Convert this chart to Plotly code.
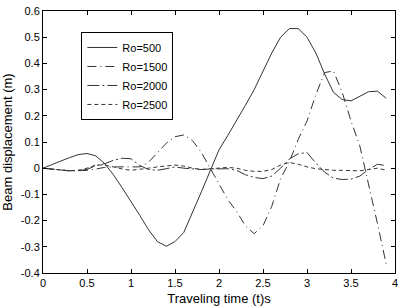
import plotly.graph_objects as go

t = [round(i * 0.1, 1) for i in range(40)]

ro500 = [0, 0.012, 0.027, 0.04, 0.052, 0.056, 0.047, 0.018, -0.025, -0.075,
         -0.125, -0.18, -0.235, -0.28, -0.298, -0.28, -0.245, -0.17, -0.09, -0.01,
         0.07, 0.125, 0.18, 0.24, 0.30, 0.37, 0.44, 0.50, 0.533, 0.533,
         0.50, 0.44, 0.36, 0.29, 0.262, 0.257, 0.275, 0.292, 0.294, 0.267]

ro1500 = [0, -0.004, -0.008, -0.01, -0.01, -0.008, -0.003, 0.003, 0.005, 0.005,
          0.003, 0.005, 0.023, 0.058, 0.095, 0.12, 0.127, 0.105, 0.06, 0.0,
          -0.06, -0.12, -0.165, -0.22, -0.25, -0.22, -0.145, -0.04, 0.025, 0.11,
          0.18, 0.28, 0.365, 0.371, 0.29, 0.18, 0.085, -0.06, -0.21, -0.366]

ro2000 = [0, -0.004, -0.008, -0.01, -0.008, -0.005, 0.01, 0.017, 0.03, 0.038,
          0.036, 0.01, -0.005, -0.008, -0.002, 0.005, 0.0, -0.003, -0.005, -0.003,
          -0.002, -0.002, -0.008, -0.025, -0.035, -0.04, -0.03, 0.0, 0.035, 0.055,
          0.06, 0.02, -0.015, -0.038, -0.043, -0.042, -0.03, -0.005, 0.015, 0.01]

ro2500 = [0, -0.003, -0.008, -0.01, -0.008, 0.0, 0.012, 0.012, 0.005, -0.003,
          -0.008, -0.005, 0.0, 0.005, 0.008, 0.012, 0.008, 0.0, -0.005, -0.003,
          0.0, 0.003, 0.0, -0.008, -0.012, -0.012, -0.005, 0.012, 0.022, 0.015,
          0.005, -0.002, -0.005, -0.008, -0.008, -0.01, -0.01, -0.005, 0.0, -0.008]

names = ["Ro=500", "Ro=1500", "Ro=2000", "Ro=2500"]
xticks = [0, 0.5, 1, 1.5, 2, 2.5, 3, 3.5, 4]
xticklabels = ["0", "0.5", "1", "1.5", "2", "2.5", "3", "3.5", "4"]
yticks = [-0.4, -0.3, -0.2, -0.1, 0, 0.1, 0.2, 0.3, 0.4, 0.5, 0.6]
yticklabels = ["-0.4", "-0.3", "-0.2", "-0.1", "0", "0.1", "0.2", "0.3", "0.4", "0.5", "0.6"]

series = [ro500, ro1500, ro2000, ro2500]
dashes = ["solid", "9px,4px,1px,4px", "12px,3px,2px,3px", "4px,3px"]

fig = go.Figure()
for name, ys, d in zip(names, series, dashes):
    fig.add_trace(go.Scatter(x=t, y=ys, mode="lines", name=name,
                             line=dict(color="#333333", width=1, dash=d)))

axis_common = dict(showline=True, linecolor="black", linewidth=1, mirror="ticks",
                   ticks="inside", ticklen=4, tickcolor="black", showgrid=False,
                   zeroline=False, tickfont=dict(family="Liberation Sans", size=11, color="black"))

fig.update_layout(
    width=403, height=308,
    margin=dict(l=43, r=5, t=8, b=30),
    paper_bgcolor="white", plot_bgcolor="white",
    font=dict(family="Liberation Sans", size=11, color="black"),
    xaxis=dict(range=[0, 4], tickvals=xticks, ticktext=xticklabels,
               title=dict(text="Traveling time (t)s", standoff=5), **axis_common),
    yaxis=dict(range=[-0.4, 0.6], tickvals=yticks, ticktext=yticklabels,
               title=dict(text="Beam displacement (m)", standoff=5), **axis_common),
    legend=dict(x=0.109, y=0.92, xanchor="left", yanchor="top",
                bordercolor="black", borderwidth=1, bgcolor="white",
                font=dict(family="Liberation Sans", size=11), tracegroupgap=0),
    showlegend=True,
)

fig.write_html("out.html")
